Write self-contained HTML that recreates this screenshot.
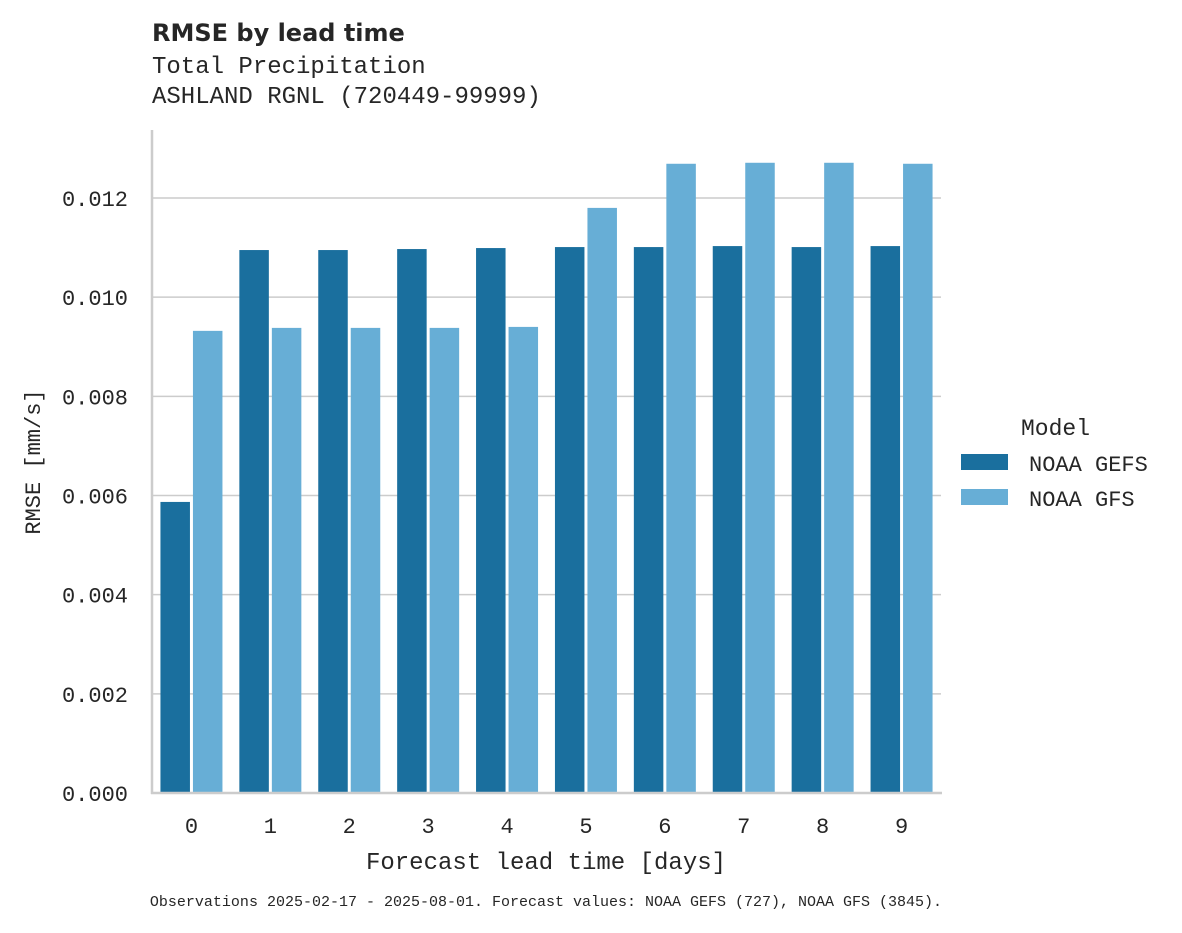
<!DOCTYPE html>
<html><head><meta charset="utf-8"><style>
body{margin:0;background:#fff;width:1182px;height:928px;overflow:hidden}
svg text{fill:#262626}
.m{font-family:"Liberation Mono","DejaVu Sans Mono",monospace}
</style></head><body>
<svg id="chart" width="1182" height="928">
<text x="152" y="41" font-family="DejaVu Sans,Liberation Sans,sans-serif" font-weight="bold" font-size="24">RMSE by lead time</text>
<text class="m" x="152" y="73" font-size="24">Total Precipitation</text>
<text class="m" x="152" y="103" font-size="24">ASHLAND RGNL (720449-99999)</text>
<g id="grid"></g><g id="bars"></g><g id="ticks"></g>
<line x1="152" y1="130" x2="152" y2="794" stroke="#ccc" stroke-width="2.5"/>
<line x1="151" y1="793" x2="942" y2="793" stroke="#ccc" stroke-width="2.5"/>
<text class="m" x="40" y="462" font-size="22" text-anchor="middle" transform="rotate(-90 40 462)">RMSE [mm/s]</text>
<text class="m" x="546" y="869" font-size="24" text-anchor="middle">Forecast lead time [days]</text>
<text class="m" x="546" y="906" font-size="15" text-anchor="middle">Observations 2025-02-17 - 2025-08-01. Forecast values: NOAA GEFS (727), NOAA GFS (3845).</text>
<g>
<text class="m" x="1021" y="435" font-size="23">Model</text>
<rect x="961" y="454" width="47" height="16" fill="#1a6f9e"/>
<text class="m" x="1029" y="471" font-size="22">NOAA GEFS</text>
<rect x="961" y="489" width="47" height="16" fill="#67aed6"/>
<text class="m" x="1029" y="506" font-size="22">NOAA GFS</text>
</g>
</svg>
<script>
const categories=["0","1","2","3","4","5","6","7","8","9"];
const gefs=[0.00587,0.01095,0.01095,0.01097,0.01099,0.01101,0.01101,0.01103,0.01101,0.01103];
const gfs=[0.00932,0.00938,0.00938,0.00938,0.0094,0.0118,0.01269,0.01271,0.01271,0.01269];
const yTicks=[0,0.002,0.004,0.006,0.008,0.010,0.012];
const yTickLabels=["0.000","0.002","0.004","0.006","0.008","0.010","0.012"];
const NS="http://www.w3.org/2000/svg";
const x0=152,x1=941,y0=793,pxPerUnit=49585;
const y=v=>y0-v*pxPerUnit;
const band=(x1-x0)/categories.length;
const xc=i=>x0+band*(i+0.5);
function mk(tag,attrs,parent){const e=document.createElementNS(NS,tag);for(const k in attrs)e.setAttribute(k,attrs[k]);parent.appendChild(e);return e;}
const grid=document.getElementById('grid'),bars=document.getElementById('bars'),ticks=document.getElementById('ticks');
yTicks.forEach((t,i)=>{
  if(t>0){const l=mk('line',{x1:x0,x2:x1,y1:y(t),y2:y(t),stroke:'#ccc','stroke-width':1.5},grid);
  
  }
  const tx=mk('text',{x:128,y:y(t)+8,'font-size':22,'text-anchor':'end',class:'m'},ticks);
  tx.textContent=yTickLabels[i];
  
  
});
categories.forEach((c,i)=>{
  const w=29.5;
  const a=mk('rect',{x:xc(i)-w-1.5,y:y(gefs[i]),width:w,height:y0-y(gefs[i]),fill:'#1a6f9e'},bars);
  
  
  const b=mk('rect',{x:xc(i)+1.5,y:y(gfs[i]),width:w,height:y0-y(gfs[i]),fill:'#67aed6'},bars);
  
  
  const t=mk('text',{x:xc(i),y:833,'font-size':22,'text-anchor':'middle',class:'m'},ticks);
  t.textContent=c;
  
  
});
</script>
</body></html>
